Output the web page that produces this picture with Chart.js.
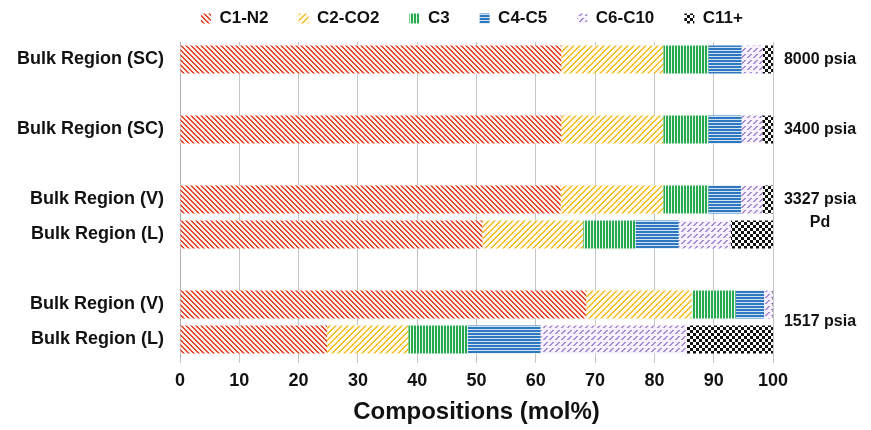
<!DOCTYPE html>
<html>
<head>
<meta charset="utf-8">
<script src="https://cdn.jsdelivr.net/npm/chart.js@4.4.1/dist/chart.umd.min.js"></script>
<style>
  html, body { margin: 0; padding: 0; background: #fff; }
  #wrap { width: 871px; height: 430px; }
</style>
</head>
<body>
<div id="wrap"><canvas id="myChart"></canvas></div>
<script>
// rows, bottom to top in the stack; empty strings are spacer rows
const regions = ['Bulk Region (SC)', '', 'Bulk Region (SC)', '', 'Bulk Region (V)', 'Bulk Region (L)', '', 'Bulk Region (V)', 'Bulk Region (L)'];

const c1n2  = [64.3, null, 64.3, null, 64.2, 51.0, null, 68.5, 24.8];
const c2co2 = [17.2, null, 17.2, null, 17.3, 17.0, null, 17.8, 13.7];
const c3    = [7.6,  null, 7.6,  null, 7.6,  8.8,  null, 7.4,  10.0];
const c4c5  = [5.6,  null, 5.6,  null, 5.5,  7.3,  null, 4.8,  12.3];
const c6c10 = [3.6,  null, 3.5,  null, 3.7,  8.8,  null, 1.4,  24.7];
const c11   = [1.7,  null, 1.8,  null, 1.7,  7.1,  null, 0.1,  14.5];

const xTicks = [0, 10, 20, 30, 40, 50, 60, 70, 80, 90, 100];

// pressure notes on the right side, placed by row index
const pressureNotes = ['8000 psia', '3400 psia', '3327 psia', 'Pd', '1517 psia'];
const pressureRows  = [0, 2, 4, 4.66, 7.5];

const FONT = 'Arial, "Liberation Sans", sans-serif';

// small tiled fills for each component
function makePattern(size, bg, fg, test) {
  const c = document.createElement('canvas');
  c.width = size; c.height = size;
  const g = c.getContext('2d');
  g.fillStyle = bg;
  g.fillRect(0, 0, size, size);
  g.fillStyle = fg;
  for (let y = 0; y < size; y++) {
    for (let x = 0; x < size; x++) {
      if (test(x, y)) g.fillRect(x, y, 1, 1);
    }
  }
  return g.createPattern(c, 'repeat');
}

const fills = [
  makePattern(5, '#fdf1ee', '#e8452c', (x, y) => ((x - y + 10) % 5) < 2),
  makePattern(6, '#fffaea', '#f5c030', (x, y) => ((x + y) % 6) < 2),
  makePattern(3, '#eaf7ee', '#26a94f', (x, y) => x < 2),
  makePattern(3, '#cfe3f5', '#2f78c0', (x, y) => y < 2),
  makePattern(6, '#f6f1fc', '#a68bd6', (x, y) => ((x + y) % 6) < 2 && (y % 6) < 4),
  makePattern(6, '#ffffff', '#111111', (x, y) => ((Math.floor(x / 3) + Math.floor(y / 3)) % 2) === 0)
];

const names = ['C1-N2', 'C2-CO2', 'C3', 'C4-C5', 'C6-C10', 'C11+'];
const series = [c1n2, c2co2, c3, c4c5, c6c10, c11];

// keep the legend strip short even with wide item spacing
const legendHeight = {
  id: 'legendHeight',
  beforeInit(chart) {
    const fit = chart.legend.fit;
    chart.legend.fit = function () {
      fit.call(this);
      this.height = 62;
    };
  }
};

const sideNotes = {
  id: 'sideNotes',
  afterDraw(chart) {
    const g = chart.ctx;
    const ys = chart.scales.y;
    g.save();
    g.font = 'bold 16px ' + FONT;
    g.fillStyle = '#111';
    g.textBaseline = 'middle';
    g.textAlign = 'center';
    pressureNotes.forEach((t, i) => {
      g.fillText(t, 820, ys.getPixelForValue(pressureRows[i]));
    });
    g.restore();
  }
};

new Chart(document.getElementById('myChart'), {
  type: 'bar',
  data: {
    labels: regions,
    datasets: series.map((d, i) => ({
      label: names[i],
      data: d,
      backgroundColor: fills[i],
      borderWidth: 0,
      categoryPercentage: 1,
      barPercentage: 0.8
    }))
  },
  options: {
    indexAxis: 'y',
    responsive: true,
    maintainAspectRatio: false,
    animation: false,
    layout: { padding: { left: 0, right: 98, top: -20, bottom: 0 } },
    plugins: {
      legend: {
        position: 'top',
        align: 'end',
        labels: {
          boxWidth: 10,
          boxHeight: 10,
          padding: 30,
          color: '#111',
          font: { family: FONT, size: 17, weight: 'bold' }
        }
      },
      tooltip: { enabled: false }
    },
    scales: {
      x: {
        stacked: true,
        min: 0,
        max: 100,
        afterBuildTicks(axis) { axis.ticks = xTicks.map(v => ({ value: v })); },
        afterFit(axis) { axis.height = 73; },
        grid: { color: '#c4c4c4', lineWidth: 1, tickLength: 6, drawTicks: true },
        border: { display: false },
        ticks: {
          color: '#111',
          padding: 7,
          font: { family: FONT, size: 18, weight: 'bold' }
        },
        title: {
          display: true,
          text: 'Compositions (mol%)',
          color: '#111',
          padding: { top: 0, bottom: 3 },
          font: { family: FONT, size: 24, weight: 'bold' }
        }
      },
      y: {
        stacked: true,
        afterFit(axis) { axis.width = 180; },
        grid: { display: false },
        border: { display: true, color: '#b0b0b0' },
        ticks: {
          color: '#111',
          padding: 8,
          font: { family: FONT, size: 18, weight: 'bold' }
        }
      }
    }
  },
  plugins: [legendHeight, sideNotes]
});
</script>
</body>
</html>
